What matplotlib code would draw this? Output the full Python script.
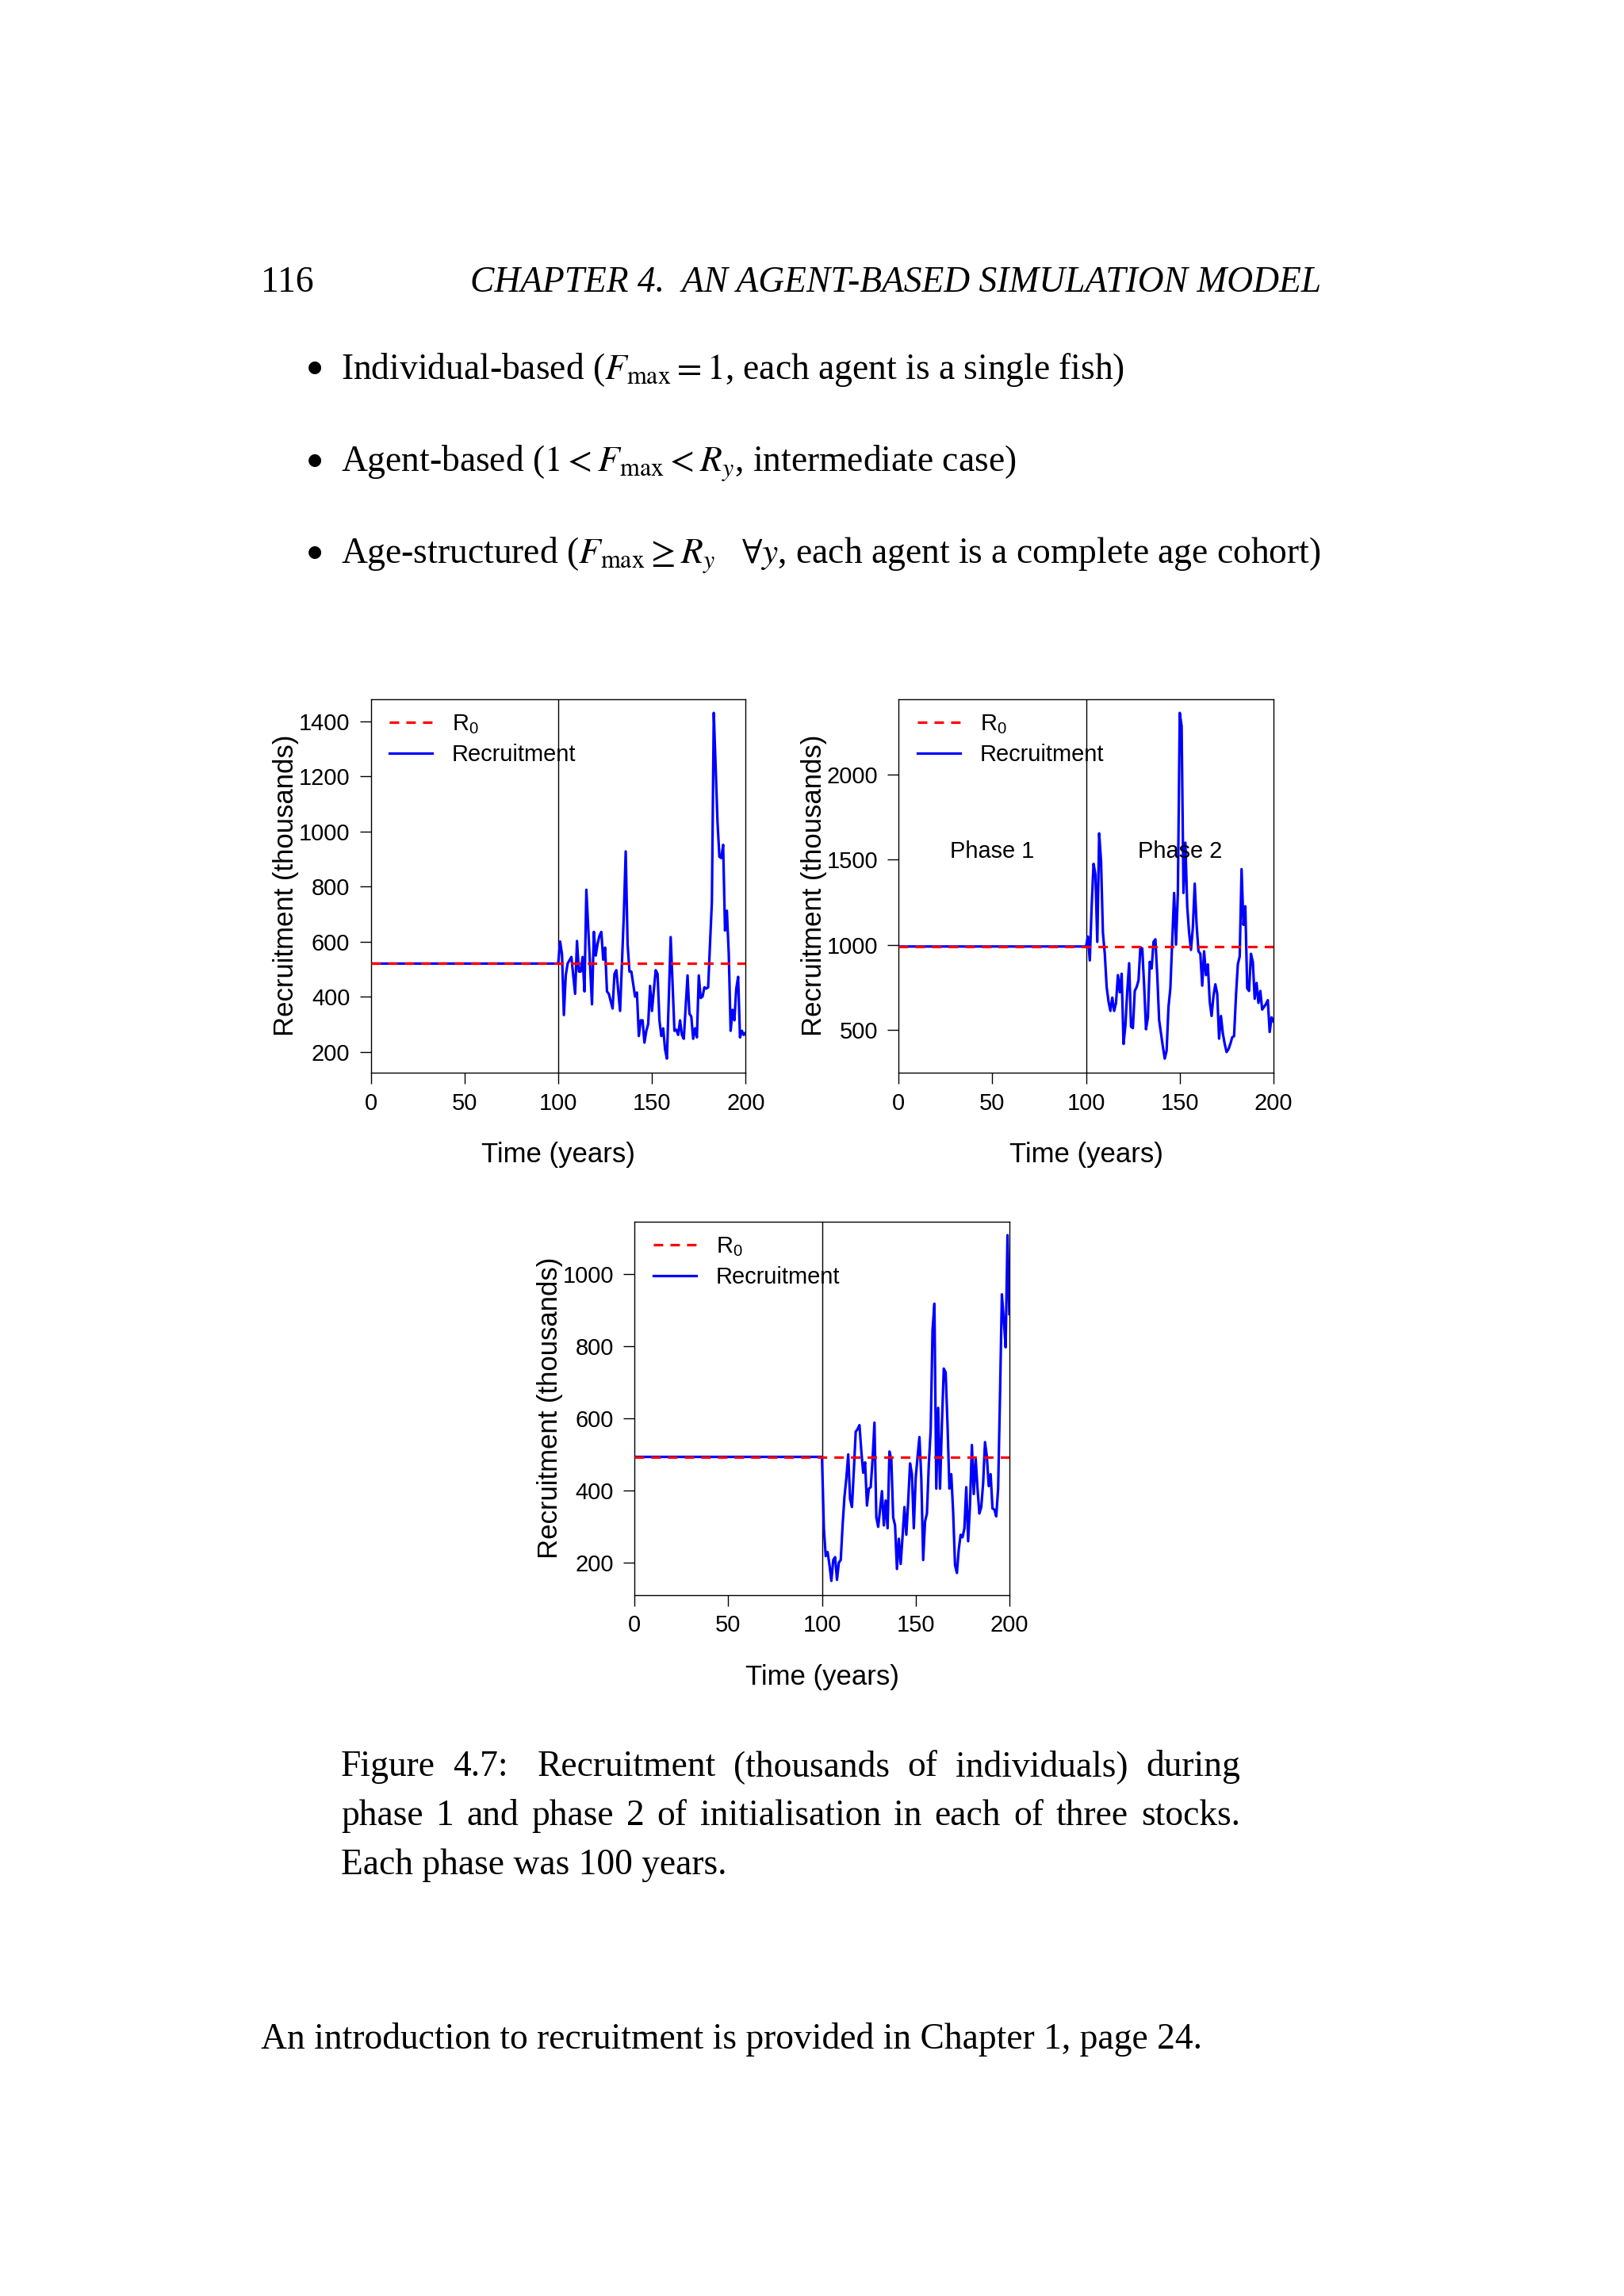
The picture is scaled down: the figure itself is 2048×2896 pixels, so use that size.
import matplotlib
matplotlib.use("Agg")
import matplotlib.pyplot as plt
from matplotlib.lines import Line2D

plt.rcParams['lines.scale_dashes'] = False

# ---------------- data ----------------
time_ticks = [0, 50, 100, 150, 200]

stock1_R0 = 521
stock1_years = [0, 100, 101, 102, 103, 104, 105, 107, 109, 110, 111, 112, 113, 114, 115, 116, 118,
                119, 120, 121, 122, 123, 124, 125, 126, 127, 129, 130, 131, 133, 135, 136, 137,
                138, 139, 141, 142, 143, 144, 145, 146, 147, 148, 149, 150, 152, 153, 154, 155,
                156, 157, 158, 160, 161, 162, 163, 164, 165, 166, 167, 168, 169, 170, 171, 172,
                173, 174, 175, 176, 177, 178, 179, 180, 181, 182, 183, 184, 185, 186, 187, 188,
                189, 190, 191, 192, 193, 194, 195, 196, 197, 198, 199, 200]
stock1_recruit = [521, 521, 601, 555, 334, 478, 521, 545, 411, 603, 492, 492, 545, 420, 789, 650, 373,
                  636, 550, 593, 622, 636, 535, 579, 420, 411, 358, 483, 497, 349, 698, 928, 593,
                  492, 492, 401, 416, 258, 315, 315, 234, 277, 301, 440, 349, 497, 483, 315, 258,
                  286, 210, 176, 617, 449, 277, 281, 262, 315, 262, 248, 363, 478, 339, 329, 248,
                  286, 253, 478, 396, 401, 435, 430, 435, 593, 746, 1431, 1235, 1034, 909, 904, 952,
                  641, 713, 555, 277, 353, 315, 430, 473, 253, 277, 262, 270]
stock1_yticks = [200, 400, 600, 800, 1000, 1200, 1400]

stock2_R0 = 991
stock2_years = [0] + list(range(100, 201))
stock2_recruit = [991, 991, 1049, 909, 1227, 1476, 1414, 1018, 1655, 1492, 1072,
                  948, 753, 668, 613, 691, 613, 660, 823, 722, 831,
                  419, 528, 730, 893, 520, 512, 730, 753, 792, 986,
                  979, 761, 505, 575, 901, 862, 1018, 1033, 823, 559,
                  481, 403, 333, 380, 637, 746, 1025, 1305, 1002, 1305,
                  2362, 2284, 1305, 1600, 1227, 1072, 971, 1103, 1360, 1118,
                  963, 948, 761, 963, 823, 886, 668, 583, 700, 769,
                  714, 450, 583, 481, 419, 372, 388, 419, 458, 465,
                  700, 886, 933, 1445, 1118, 1227, 746, 730, 948, 901,
                  684, 777, 660, 730, 621, 637, 653, 676, 489, 575, 552]
stock2_yticks = [500, 1000, 1500, 2000]
phase_labels = ["Phase 1", "Phase 2"]
phase_label_x = [50, 150]
phase_label_y = 1550

stock3_R0 = 493
stock3_years = [0] + list(range(100, 201))
stock3_recruit = [493, 493, 295, 218, 229, 193, 149, 207, 215, 152, 200,
                  207, 303, 383, 434, 500, 376, 354, 456, 563, 570,
                  581, 508, 449, 478, 358, 405, 409, 486, 588, 325,
                  299, 347, 398, 303, 372, 295, 508, 486, 325, 303,
                  182, 266, 196, 273, 354, 277, 369, 475, 445, 295,
                  434, 493, 548, 434, 207, 314, 336, 471, 566, 845,
                  918, 405, 629, 405, 585, 738, 727, 581, 405, 445,
                  339, 193, 171, 237, 277, 270, 295, 409, 259, 361,
                  526, 390, 489, 405, 336, 354, 420, 534, 493, 412,
                  445, 350, 347, 328, 405, 662, 944, 874, 797, 1108, 889]
stock3_yticks = [200, 400, 600, 800, 1000]

legend_labels = [r"$\mathregular{R_0}$", "Recruitment"]

# ---------------- page text ----------------
page_number = "116"
running_head = "CHAPTER 4.  AN AGENT-BASED SIMULATION MODEL"
bullets = [r"Individual-based ($F_{\mathrm{max}}=1$, each agent is a single fish)",
           r"Agent-based ($1<F_{\mathrm{max}}<R_y$, intermediate case)",
           r"Age-structured ($F_{\mathrm{max}}\geq R_y\quad\forall y$, each agent is a complete age cohort)"]
caption_justified = ["Figure 4.7:  Recruitment (thousands of individuals) during",
                     "phase 1 and phase 2 of initialisation in each of three stocks."]
caption_last = "Each phase was 100 years."
closing_line = "An introduction to recruitment is provided in Chapter 1, page 24."

# ---------------- layout ----------------
W, H = 2048, 2896
fig = plt.figure(figsize=(W / 100, H / 100), dpi=100)
fig.patch.set_facecolor("white")
renderer = fig.canvas.get_renderer()
SERIF = "Liberation Serif"
SANS = "Liberation Sans"


def fx(x):
    return x / W


def fy(y):
    return 1 - y / H


def fit_size(text, target, **kw):
    t = fig.text(0, 0, text, fontsize=30, **kw)
    w = t.get_window_extent(renderer).width
    t.remove()
    return 30 * target / w


body_fs = fit_size(closing_line, 1185, family=SERIF)
head_fs = fit_size(running_head, 1073, family=SERIF, style="italic")

fig.text(fx(329), fy(368), page_number, fontsize=body_fs, family=SERIF, va="baseline")
fig.text(fx(1666), fy(368), running_head, fontsize=head_fs, family=SERIF, style="italic",
         ha="right", va="baseline")

for s, yb in zip(bullets, [478, 595, 711]):
    fig.text(fx(397), fy(yb - 9), "\u25CF", fontsize=15, family="DejaVu Sans",
             ha="center", va="baseline")
    fig.text(fx(430), fy(yb), s, fontsize=body_fs, family=SERIF, math_fontfamily="stix",
             va="baseline")


def justify(line, x0, x1, yb, fs):
    words = line.split()
    objs = [fig.text(0, fy(yb), w, fontsize=fs, family=SERIF, va="baseline") for w in words]
    widths = [o.get_window_extent(renderer).width for o in objs]
    gaps = [1.6 if words[i].endswith(":") else 1.0 for i in range(len(words) - 1)]
    unit = (x1 - x0 - sum(widths)) / sum(gaps)
    x = x0
    for i, (o, w) in enumerate(zip(objs, widths)):
        o.set_x(fx(x))
        if i < len(gaps):
            x += w + unit * gaps[i]


justify(caption_justified[0], 430, 1564, 2240, body_fs)
justify(caption_justified[1], 430, 1564, 2302, body_fs)
fig.text(fx(430), fy(2364), caption_last, fontsize=body_fs, family=SERIF, va="baseline")
fig.text(fx(329), fy(2584), closing_line, fontsize=body_fs, family=SERIF, va="baseline")

# ---------------- panels ----------------
TICK_FS = 20.9
LAB_FS = 25
DASH = (0, (8.6, 6.5))


def panel(left, top, yrs, vals, r0, yticks, phases=False):
    w_px, h_px = 472.6, 471
    ax = fig.add_axes([fx(left), fy(top + h_px), w_px / W, h_px / H])
    ax.plot(yrs, vals, color="blue", lw=2.3, solid_joinstyle="round", zorder=2)
    ax.axhline(r0, color="red", lw=2.3, linestyle=DASH, zorder=3)
    ax.axvline(100, color="black", lw=1.0, zorder=1)
    lo, hi = min(vals + [r0]), max(vals + [r0])
    pad = 0.04 * (hi - lo)
    ax.set_ylim(lo - pad, hi + pad)
    ax.set_xlim(0, 200)
    ax.set_xticks(time_ticks)
    ax.set_yticks(yticks)
    for sp in ax.spines.values():
        sp.set_linewidth(1.0)
    ax.tick_params(direction="out", length=10, width=1.0, labelsize=TICK_FS)
    ax.tick_params(axis="x", pad=8)
    ax.tick_params(axis="y", pad=9)
    for lab in ax.get_xticklabels() + ax.get_yticklabels():
        lab.set_family(SANS)
    ax.set_xlabel("Time (years)", fontsize=LAB_FS, family=SANS, va="center")
    ax.xaxis.set_label_coords(0.5, -104 / h_px)
    ax.set_ylabel("Recruitment (thousands)", fontsize=LAB_FS, family=SANS, va="center")
    ax.yaxis.set_label_coords(-107 / w_px, 0.5)
    handles = [Line2D([], [], color="red", lw=2.3, linestyle=DASH),
               Line2D([], [], color="blue", lw=2.3)]
    ax.legend(handles, legend_labels, loc="upper left", bbox_to_anchor=(0.05, 0.962),
              frameon=False, prop={"family": SANS, "size": TICK_FS}, handlelength=1.86,
              handletextpad=0.85, labelspacing=0.33, borderpad=0, borderaxespad=0)
    if phases:
        for lab, xp in zip(phase_labels, phase_label_x):
            ax.text(xp, phase_label_y, lab, fontsize=TICK_FS, family=SANS,
                    ha="center", va="center")
    return ax


panel(467.7, 881.7, stock1_years, stock1_recruit, stock1_R0, stock1_yticks)
panel(1133.3, 881.7, stock2_years, stock2_recruit, stock2_R0, stock2_yticks, phases=True)
panel(800.3, 1540.5, stock3_years, stock3_recruit, stock3_R0, stock3_yticks)

fig.savefig("out.png", dpi=100, facecolor="white")
